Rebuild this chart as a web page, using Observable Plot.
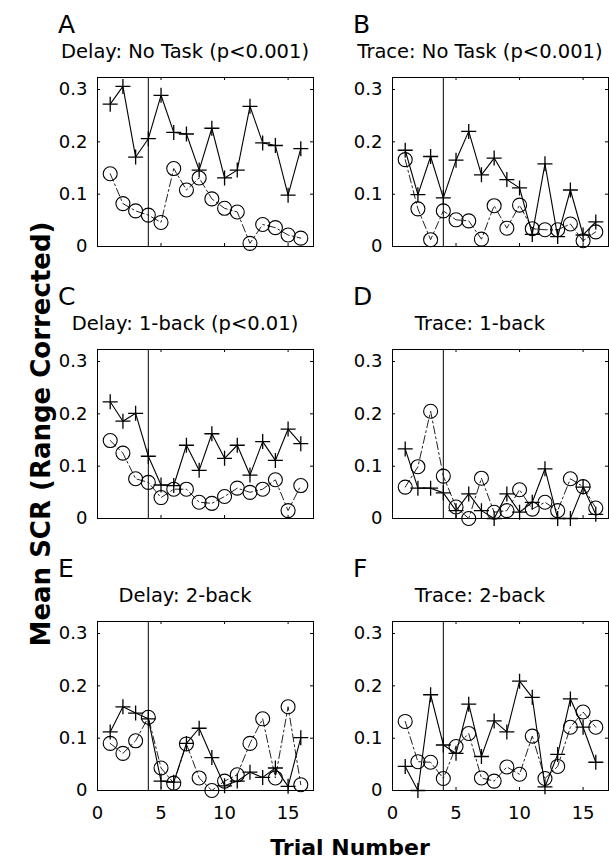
<!DOCTYPE html>
<html><head><meta charset="utf-8">
<script src="https://cdn.jsdelivr.net/npm/d3@7"></script>
<script src="https://cdn.jsdelivr.net/npm/@observablehq/plot@0.6"></script>
<style>
html,body{margin:0;padding:0;background:#fff;}
#fig{position:relative;width:609px;height:859px;overflow:hidden;background:#fff;}
#fig svg{position:absolute;overflow:visible;}
</style></head><body><div id="fig"></div>
<script>
// ---- data ----
const trials = [1,2,3,4,5,6,7,8,9,10,11,12,13,14,15,16];
const xTicks = [0,5,10,15];
const yTicks = [0,0.1,0.2,0.3];
const yTickLabels = ["0","0.1","0.2","0.3"];
const panelLetters = ["A","B","C","D","E","F"];
const panelTitles = ["Delay: No Task (p<0.001)","Trace: No Task (p<0.001)","Delay: 1-back (p<0.01)","Trace: 1-back","Delay: 2-back","Trace: 2-back"];
const yTitle = "Mean SCR (Range Corrected)";
const xTitle = "Trial Number";
const csOnsetTrial = 4;

const aPlus = [0.272,0.306,0.171,0.206,0.289,0.218,0.215,0.146,0.226,0.131,0.146,0.268,0.198,0.193,0.098,0.187];
const aCirc = [0.139,0.082,0.068,0.060,0.046,0.149,0.108,0.131,0.091,0.073,0.066,0.006,0.042,0.036,0.022,0.016];
const bPlus = [0.184,0.099,0.172,0.093,0.165,0.220,0.137,0.169,0.128,0.112,0.023,0.158,0.019,0.108,0.022,0.047];
const bCirc = [0.166,0.072,0.013,0.068,0.051,0.049,0.014,0.078,0.035,0.079,0.034,0.032,0.032,0.043,0.011,0.028];
const cPlus = [0.223,0.186,0.201,0.119,0.064,0.063,0.140,0.092,0.162,0.115,0.140,0.083,0.147,0.111,0.171,0.143];
const cCirc = [0.149,0.125,0.076,0.069,0.040,0.056,0.056,0.031,0.029,0.042,0.058,0.050,0.056,0.074,0.015,0.063];
const dPlus = [0.133,0.058,0.058,0.049,0.015,0.047,0.015,0.000,0.047,0.012,0.031,0.095,0.000,0.000,0.060,0.008];
const dCirc = [0.060,0.099,0.205,0.081,0.022,0.000,0.077,0.012,0.015,0.055,0.018,0.031,0.015,0.076,0.061,0.020];
const ePlus = [0.112,0.160,0.148,0.137,0.018,0.016,0.090,0.119,0.063,0.009,0.018,0.035,0.025,0.043,0.008,0.101];
const eCirc = [0.090,0.071,0.095,0.140,0.043,0.014,0.089,0.024,0.000,0.018,0.030,0.090,0.137,0.024,0.160,0.011];
const fPlus = [0.046,0.000,0.183,0.087,0.071,0.165,0.065,0.133,0.112,0.209,0.178,0.007,0.069,0.175,0.121,0.054];
const fCirc = [0.132,0.055,0.054,0.023,0.084,0.109,0.024,0.018,0.045,0.031,0.104,0.023,0.046,0.121,0.150,0.121];

const plusSeries = [aPlus,bPlus,cPlus,dPlus,ePlus,fPlus];
const circSeries = [aCirc,bCirc,cCirc,dCirc,eCirc,fCirc];

// ---- layout ----
const boxLefts = [97, 392];
const boxTops = [77, 349, 621];
const boxW = 216, boxH = 169;
const FONT = "'DejaVu Sans', sans-serif";

const plusSymbol = {
  draw(ctx, size) {
    const r = Math.sqrt(size / Math.PI);
    ctx.moveTo(-r, 0); ctx.lineTo(r, 0);
    ctx.moveTo(0, -r); ctx.lineTo(0, r);
  }
};

const fig = document.getElementById("fig");

for (let i = 0; i < 6; i++) {
  const col = i % 2, row = Math.floor(i / 2);
  const showX = row === 2;
  const mL = 60, mR = col ? 1 : 10, mT = 10, mB = showX ? 40 : 10;
  const W = boxW + mL + mR, H = boxH + mT + mB;
  const plusRows = trials.map((t, k) => ({t, v: plusSeries[i][k]}));
  const circRows = trials.map((t, k) => ({t, v: circSeries[i][k]}));
  const inner = xTicks.filter(d => d > 0);
  const innerY = yTicks.filter(d => d > 0);
  const svg = Plot.plot({
    width: W, height: H,
    marginLeft: mL, marginRight: mR, marginTop: mT, marginBottom: mB,
    x: {domain: [0, 17], label: null},
    y: {domain: [0, 0.323], label: null},
    style: {fontFamily: FONT, fontSize: "18px", color: "black", background: "transparent", overflow: "visible"},
    marks: [
      Plot.axisY(yTicks, {tickSize: 0, tickPadding: 10, tickFormat: d => yTickLabels[yTicks.indexOf(d)], fontSize: 18}),
      Plot.axisX(xTicks, {tickSize: 0, tickPadding: 16, fontSize: 18, tickFormat: d => showX ? String(d) : ""}),
      Plot.tickX(inner, {x: d => d, insetTop: boxH - 3, stroke: "black"}),
      Plot.tickX(inner, {x: d => d, insetBottom: boxH - 3, stroke: "black"}),
      Plot.tickY(innerY, {y: d => d, insetRight: boxW - 3, stroke: "black"}),
      Plot.tickY(innerY, {y: d => d, insetLeft: boxW - 3, stroke: "black"}),
      Plot.frame({stroke: "black", strokeWidth: 1}),
      Plot.ruleX([csOnsetTrial], {stroke: "black", strokeWidth: 1}),
      Plot.line(circRows, {x: "t", y: "v", stroke: "#222", strokeWidth: 1, strokeDasharray: "8,3,2,3"}),
      Plot.line(plusRows, {x: "t", y: "v", stroke: "black", strokeWidth: 1.1}),
      Plot.dot(circRows, {x: "t", y: "v", symbol: "circle", r: 7, stroke: "black", strokeWidth: 1.1, fill: "none"}),
      Plot.dot(plusRows, {x: "t", y: "v", symbol: plusSymbol, r: 7.5, stroke: "black", strokeWidth: 1.3, fill: "none"})
    ]
  });
  svg.style.left = (boxLefts[col] - mL) + "px";
  svg.style.top = (boxTops[row] - mT) + "px";
  fig.appendChild(svg);
}

// ---- text overlay ----
const ov = d3.select(fig).append("svg")
  .attr("width", 609).attr("height", 859)
  .style("left", "0px").style("top", "0px")
  .style("font-family", FONT).style("pointer-events", "none");

for (let i = 0; i < 6; i++) {
  const col = i % 2, row = Math.floor(i / 2);
  const bt = boxTops[row];
  ov.append("text").attr("x", boxLefts[col] - 39).attr("y", bt - 44)
    .attr("font-size", 25).text(panelLetters[i]);
  ov.append("text").attr("x", boxLefts[col] + boxW / 2 - 20).attr("y", bt - 19)
    .attr("text-anchor", "middle").attr("font-size", 19.5).text(panelTitles[i]);
}
ov.append("text").attr("transform", "translate(50,434) rotate(-90)")
  .attr("text-anchor", "middle").attr("font-size", 26).attr("font-weight", "bold").text(yTitle);
ov.append("text").attr("x", 350).attr("y", 855)
  .attr("text-anchor", "middle").attr("font-size", 22).attr("font-weight", "bold").text(xTitle);
</script>
</body></html>
